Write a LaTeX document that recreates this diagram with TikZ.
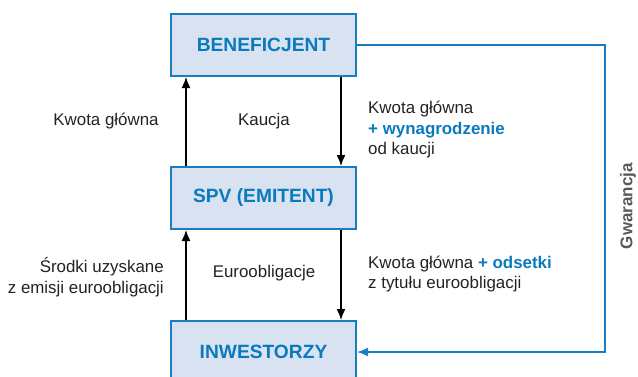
\documentclass[tikz,border=0pt]{standalone}
\usepackage{fontspec}
\setmainfont{Liberation Sans}
\usetikzlibrary{arrows.meta}
\definecolor{boxblue}{HTML}{1A7CC1}
\definecolor{boxfill}{HTML}{D9E2F0}
\definecolor{txtblue}{HTML}{0A7ABF}
\definecolor{txtgray}{HTML}{222222}
\definecolor{gwgray}{HTML}{555A5F}
\tikzset{
  entity/.style={draw=boxblue, fill=boxfill, line width=2pt, minimum width=185pt, minimum height=62pt, inner sep=0pt,
    font=\fontsize{19.2}{22}\selectfont\bfseries, text=txtblue},
  lbl/.style={inner sep=0pt, font=\fontsize{16.9}{20.5}\selectfont, text=txtgray},
  flow/.style={line width=1.5pt, draw=black, -{Latex[length=11pt,width=9pt]}},
  guar/.style={line width=1.5pt, draw=boxblue, -{Latex[length=11pt,width=9pt]}}
}
\begin{document}
\begin{tikzpicture}[x=1pt,y=-1pt]
\useasboundingbox (0,0) rectangle (638,376);
\clip (0,0) rectangle (638,376);
\node[entity] (benef) at (263.5,45) {BENEFICJENT};
\node[entity] (spv) at (263.5,198) {SPV (EMITENT)};
\node[entity] (inw) at (263.5,352) {INWESTORZY};
\coordinate (gx) at (605,0);
% flows
\draw[flow] ([xshift=16pt]spv.north west) -- ([xshift=16pt]benef.south west);
\draw[flow] ([xshift=-16pt]benef.south east) -- ([xshift=-16pt]spv.north east);
\draw[flow] ([xshift=16pt]inw.north west) -- ([xshift=16pt]spv.south west);
\draw[flow] ([xshift=-16pt]spv.south east) -- ([xshift=-16pt]inw.north east);
\draw[guar] (benef.east) -- (benef.east -| gx) |- (inw.east);
% labels
\node[lbl] (kg1) at (106,121) {Kwota główna};
\node[lbl] (kau) at (264,121) {Kaucja};
\node[lbl, anchor=west, align=left] (kgw) at (368,130) {Kwota główna\\{\bfseries\color{txtblue}+ wynagrodzenie}\\od kaucji};
\node[lbl, anchor=east, align=right] (srd) at (164,277) {Środki uzyskane\\z emisji euroobligacji};
\node[lbl] (eur) at (264,273) {Euroobligacje};
\node[lbl, anchor=west, align=left] (kgo) at (368,274) {Kwota główna {\bfseries\color{txtblue}+ odsetki}\\z tytułu euroobligacji};
\node[lbl, rotate=90, font=\fontsize{17}{20}\selectfont\bfseries, text=gwgray] (gw) at (628,206) {Gwarancja};
\end{tikzpicture}
\end{document}
